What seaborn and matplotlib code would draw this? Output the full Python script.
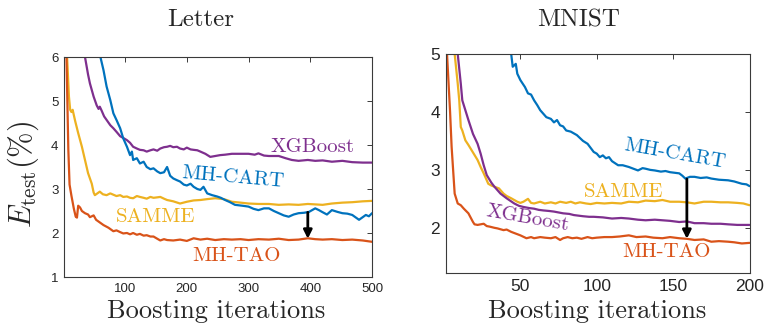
import numpy as np
import pandas as pd
import matplotlib
matplotlib.use("Agg")
import matplotlib.pyplot as plt
import seaborn as sns

# ---------------- data: Letter ----------------
letter_tao_x = [1, 5, 8, 10, 13, 17, 20, 22, 24, 27, 30, 35, 40, 43, 49, 53, 57, 61, 65, 73, 81, 86, 92, 97,
                103, 108, 113, 119, 124, 130, 135, 141, 146, 152, 157, 163, 168, 178, 189, 200, 211, 222, 233,
                246, 260, 273, 287, 300, 316, 333, 349, 365, 381, 396, 408, 420, 435, 452, 468, 485, 500]
letter_tao_y = [9.0, 6.0, 3.9, 3.1, 2.85, 2.55, 2.37, 2.35, 2.62, 2.58, 2.5, 2.45, 2.42, 2.36, 2.4, 2.3, 2.26,
                2.22, 2.18, 2.12, 2.04, 2.06, 2.02, 1.99, 2.0, 1.97, 2.0, 1.96, 1.98, 1.94, 1.95, 1.92, 1.92,
                1.87, 1.83, 1.86, 1.84, 1.83, 1.85, 1.82, 1.88, 1.85, 1.87, 1.84, 1.86, 1.85, 1.86, 1.84, 1.86,
                1.85, 1.87, 1.84, 1.85, 1.88, 1.86, 1.85, 1.86, 1.84, 1.85, 1.83, 1.80]

letter_samme_x = [1, 6, 9, 11, 13, 15, 19, 24, 30, 35, 40, 46, 49, 51, 55, 59, 64, 70, 76, 81, 86, 92, 97, 103,
                  108, 113, 119, 124, 130, 135, 141, 146, 152, 157, 163, 168, 178, 189, 200, 211, 222, 233, 246,
                  260, 273, 287, 300, 316, 333, 349, 365, 381, 396, 408, 420, 435, 452, 468, 485, 500]
letter_samme_y = [9.0, 6.0, 5.1, 4.8, 4.75, 4.8, 4.55, 4.27, 3.96, 3.66, 3.36, 3.12, 2.92, 2.86, 2.9, 2.94, 2.88,
                  2.86, 2.9, 2.87, 2.84, 2.86, 2.82, 2.83, 2.8, 2.79, 2.84, 2.82, 2.8, 2.78, 2.82, 2.8, 2.81, 2.82,
                  2.78, 2.75, 2.72, 2.67, 2.71, 2.74, 2.75, 2.77, 2.79, 2.77, 2.71, 2.69, 2.67, 2.66, 2.66, 2.64,
                  2.65, 2.64, 2.66, 2.65, 2.64, 2.67, 2.69, 2.70, 2.72, 2.73]

letter_cart_x = [1, 30, 55, 60, 65, 70, 76, 81, 86, 92, 97, 103, 108, 111, 113, 119, 124, 130, 135, 141, 146,
                 152, 157, 163, 168, 173, 178, 184, 189, 195, 200, 206, 211, 217, 222, 227, 233, 241, 249, 255,
                 262, 270, 278, 290, 300, 308, 316, 325, 333, 341, 349, 357, 365, 373, 381, 390, 398, 408, 414,
                 419, 427, 435, 444, 452, 460, 468, 474, 479, 485, 490, 495, 500]
letter_cart_y = [12.0, 8.0, 6.4, 6.0, 5.7, 5.33, 5.02, 4.72, 4.57, 4.38, 4.15, 3.96, 3.77, 3.85, 3.66, 3.7, 3.58,
                 3.62, 3.5, 3.45, 3.47, 3.4, 3.36, 3.38, 3.5, 3.3, 3.24, 3.2, 3.17, 3.1, 3.08, 3.12, 3.05, 3.0,
                 2.98, 3.05, 2.9, 2.86, 2.83, 2.8, 2.75, 2.7, 2.64, 2.62, 2.6, 2.55, 2.52, 2.56, 2.56, 2.5, 2.45,
                 2.4, 2.37, 2.42, 2.45, 2.46, 2.48, 2.56, 2.52, 2.48, 2.42, 2.52, 2.48, 2.45, 2.44, 2.41, 2.35,
                 2.3, 2.36, 2.41, 2.38, 2.45]

letter_xgb_x = [1, 35, 40, 43, 49, 54, 57, 59, 62, 66, 70, 76, 81, 86, 92, 97, 103, 108, 113, 119, 124, 130, 135,
                141, 146, 152, 157, 163, 168, 173, 178, 184, 189, 195, 200, 206, 211, 217, 222, 230, 238, 246,
                254, 262, 273, 287, 300, 310, 316, 325, 333, 349, 360, 370, 381, 396, 408, 420, 435, 452, 468,
                485, 500]
letter_xgb_y = [10.0, 6.0, 5.6, 5.4, 5.1, 4.9, 4.82, 4.87, 4.78, 4.65, 4.57, 4.45, 4.38, 4.3, 4.2, 4.16, 4.11,
                4.05, 3.96, 3.92, 3.89, 3.88, 3.85, 3.88, 3.9, 3.87, 3.92, 3.95, 3.96, 3.98, 3.95, 3.96, 3.92,
                3.9, 3.94, 3.9, 3.89, 3.88, 3.85, 3.8, 3.73, 3.75, 3.77, 3.78, 3.8, 3.8, 3.8, 3.78, 3.81, 3.76,
                3.75, 3.75, 3.7, 3.66, 3.64, 3.66, 3.64, 3.65, 3.62, 3.64, 3.61, 3.6, 3.6]

# ---------------- data: MNIST ----------------
mnist_tao_x = [1, 2, 4, 5, 7, 9, 11, 13, 16, 19, 20, 22, 24, 26, 28, 30, 33, 35, 39, 41, 44, 47, 50, 54, 57, 59,
               63, 66, 70, 73, 76, 78, 81, 84, 87, 90, 94, 97, 100, 105, 110, 115, 121, 126, 132, 137, 143, 148,
               154, 159, 164, 170, 175, 180, 186, 190, 195, 200]
mnist_tao_y = [8.0, 5.0, 4.0, 3.4, 2.59, 2.42, 2.39, 2.33, 2.25, 2.1, 2.06, 2.05, 2.06, 2.07, 2.03, 2.02, 2.0,
               1.99, 1.96, 1.97, 1.93, 1.9, 1.87, 1.82, 1.84, 1.82, 1.84, 1.83, 1.82, 1.84, 1.79, 1.82, 1.84,
               1.82, 1.83, 1.81, 1.84, 1.82, 1.83, 1.84, 1.84, 1.85, 1.87, 1.84, 1.85, 1.83, 1.82, 1.84, 1.82,
               1.81, 1.79, 1.8, 1.76, 1.77, 1.76, 1.75, 1.73, 1.74]

mnist_samme_x = [1, 7, 9, 10, 11, 12, 14, 16, 19, 22, 24, 26, 29, 31, 33, 36, 39, 41, 44, 48, 50, 52, 55, 57,
                 59, 63, 66, 70, 73, 76, 80, 83, 86, 89, 93, 96, 100, 105, 110, 116, 121, 127, 132, 138, 143,
                 148, 154, 159, 164, 170, 175, 181, 186, 192, 196, 200]
mnist_samme_y = [10.0, 5.0, 4.49, 4.2, 3.74, 3.68, 3.51, 3.43, 3.3, 3.17, 3.05, 2.94, 2.76, 2.73, 2.71, 2.68,
                 2.59, 2.55, 2.51, 2.45, 2.43, 2.45, 2.5, 2.43, 2.42, 2.45, 2.42, 2.44, 2.42, 2.45, 2.43, 2.45,
                 2.42, 2.44, 2.42, 2.41, 2.43, 2.42, 2.43, 2.42, 2.45, 2.44, 2.47, 2.46, 2.48, 2.45, 2.45, 2.44,
                 2.42, 2.45, 2.45, 2.44, 2.44, 2.43, 2.42, 2.39]

mnist_xgb_x = [1, 9, 11, 12, 14, 16, 19, 22, 24, 26, 28, 31, 33, 37, 41, 46, 49, 52, 56, 59, 62, 65, 69, 72, 76,
               78, 82, 85, 88, 91, 95, 98, 104, 110, 116, 121, 127, 132, 138, 143, 148, 154, 159, 164, 170, 175,
               181, 186, 192, 200]
mnist_xgb_y = [10.0, 5.0, 4.49, 4.2, 4.03, 3.86, 3.62, 3.45, 3.28, 3.08, 2.91, 2.78, 2.71, 2.59, 2.51, 2.42,
               2.38, 2.36, 2.34, 2.33, 2.31, 2.3, 2.29, 2.28, 2.26, 2.25, 2.24, 2.22, 2.21, 2.2, 2.19, 2.19,
               2.18, 2.16, 2.17, 2.16, 2.14, 2.13, 2.14, 2.13, 2.12, 2.1, 2.11, 2.08, 2.08, 2.07, 2.07, 2.06,
               2.05, 2.05]

mnist_cart_x = [1, 44, 45, 47, 48, 50, 53, 55, 57, 59, 61, 63, 65, 67, 70, 72, 74, 76, 78, 80, 83, 85, 87, 89,
                91, 94, 96, 98, 100, 102, 104, 106, 108, 110, 114, 117, 121, 124, 127, 130, 132, 135, 138, 142,
                145, 148, 151, 154, 156, 158, 161, 164, 168, 172, 175, 180, 186, 190, 195, 198, 200]
mnist_cart_y = [15.0, 5.0, 4.78, 4.83, 4.66, 4.55, 4.43, 4.32, 4.3, 4.2, 4.12, 4.03, 3.97, 3.91, 3.88, 3.82,
                3.86, 3.77, 3.75, 3.68, 3.66, 3.63, 3.6, 3.55, 3.5, 3.45, 3.38, 3.31, 3.28, 3.22, 3.25, 3.2,
                3.22, 3.15, 3.08, 3.08, 3.05, 3.02, 2.99, 3.03, 3.02, 3.0, 2.99, 2.97, 2.98, 2.96, 2.95, 2.94,
                2.9, 2.85, 2.88, 2.88, 2.86, 2.87, 2.85, 2.83, 2.82, 2.8, 2.76, 2.75, 2.72]

letter_xticks = [100, 200, 300, 400, 500]
letter_yticks = [1, 2, 3, 4, 5, 6]
mnist_xticks = [50, 100, 150, 200]
mnist_yticks = [2, 3, 4, 5]

# ---------------- style ----------------
C_BLUE = "#0072BD"
C_RED = "#D95319"
C_YEL = "#EDB120"
C_PUR = "#7E2F8E"

sns.set_style("white")
plt.rcParams["mathtext.fontset"] = "cm"
plt.rcParams["font.family"] = ["Liberation Sans", "DejaVu Sans"]

fig = plt.figure(figsize=(7.66, 3.25), dpi=100)
axL = fig.add_axes([64 / 766, 1 - 277 / 325, 308 / 766, 220 / 325])
axR = fig.add_axes([445.5 / 766, 1 - 273 / 325, 304 / 766, 219 / 325])


def draw(ax, series):
    for (xs, ys, c) in series:
        df = pd.DataFrame({"x": xs, "y": ys})
        sns.lineplot(data=df, x="x", y="y", color=c, linewidth=1.6, ax=ax, estimator=None, sort=False)


draw(axL, [(letter_xgb_x, letter_xgb_y, C_PUR), (letter_samme_x, letter_samme_y, C_YEL),
           (letter_cart_x, letter_cart_y, C_BLUE), (letter_tao_x, letter_tao_y, C_RED)])
draw(axR, [(mnist_cart_x, mnist_cart_y, C_BLUE), (mnist_samme_x, mnist_samme_y, C_YEL),
           (mnist_xgb_x, mnist_xgb_y, C_PUR), (mnist_tao_x, mnist_tao_y, C_RED)])


def style(ax, xlim, ylim, xt, yt, fs):
    ax.set_xlim(*xlim)
    ax.set_ylim(*ylim)
    ax.set_xticks(xt)
    ax.set_yticks(yt)
    ax.set_xlabel("")
    ax.set_ylabel("")
    for s in ax.spines.values():
        s.set_visible(True)
        s.set_color("#3a3a3a")
        s.set_linewidth(0.8)
    ax.tick_params(direction="in", length=3.5, width=0.7, colors="#3a3a3a",
                   top=True, right=True, labelsize=fs, labelcolor="#262626", pad=4)


style(axL, (1, 500), (1, 6), letter_xticks, letter_yticks, 9.5)
style(axR, (1, 200), (1.22, 5), mnist_xticks, mnist_yticks, 12.5)

CM = "cmr10"
LFS = 15

# Letter annotations
axL.text(404, 3.95, "XGBoost", color=C_PUR, family=CM, fontsize=LFS, ha="center", va="center")
axL.text(274, 3.27, "MH-CART", color=C_BLUE, family=CM, fontsize=LFS, ha="center", va="center",
         rotation=-5, rotation_mode="anchor")
axL.text(150, 2.36, "SAMME", color=C_YEL, family=CM, fontsize=LFS, ha="center", va="center")
axL.text(280, 1.48, "MH-TAO", color=C_RED, family=CM, fontsize=LFS, ha="center", va="center")
axL.annotate("", xy=(396, 1.87), xytext=(396, 2.47),
             arrowprops=dict(arrowstyle="-|>,head_length=0.5,head_width=0.25", color="k", lw=2,
                             shrinkA=0, shrinkB=0))

# MNIST annotations
axR.text(151, 3.28, "MH-CART", color=C_BLUE, family=CM, fontsize=LFS, ha="center", va="center",
         rotation=-10, rotation_mode="anchor")
axR.text(117.5, 2.62, "SAMME", color=C_YEL, family=CM, fontsize=LFS, ha="center", va="center")
axR.text(55, 2.17, "XGBoost", color=C_PUR, family=CM, fontsize=LFS, ha="center", va="center",
         rotation=-10, rotation_mode="anchor")
axR.text(145.5, 1.59, "MH-TAO", color=C_RED, family=CM, fontsize=LFS, ha="center", va="center")
axR.annotate("", xy=(159, 1.81), xytext=(159, 2.84),
             arrowprops=dict(arrowstyle="-|>,head_length=0.5,head_width=0.25", color="k", lw=2,
                             shrinkA=0, shrinkB=0))

# titles and axis labels
fig.text(201 / 766, 1 - 20 / 325, "Letter", family=CM, fontsize=18, ha="center", va="center")
fig.text(579 / 766, 1 - 20 / 325, "MNIST", family=CM, fontsize=18, ha="center", va="center")
fig.text(216 / 766, 1 - 311 / 325, "Boosting iterations", family=CM, fontsize=19, ha="center", va="center")
fig.text(597 / 766, 1 - 311 / 325, "Boosting iterations", family=CM, fontsize=19, ha="center", va="center")
fig.text(23 / 766, 1 - 174 / 325, r"$E_{\rm test}(\%)$", fontsize=22, ha="center", va="center", rotation=90)

fig.savefig("out.png", dpi=100)
